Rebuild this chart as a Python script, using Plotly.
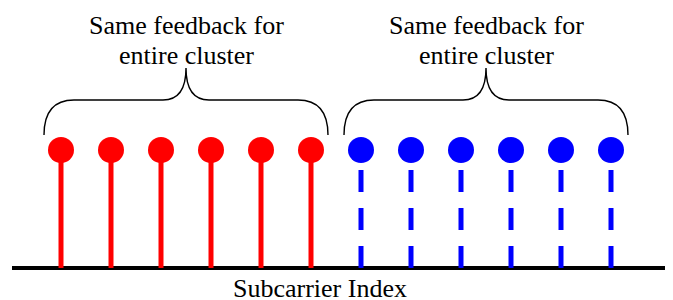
import plotly.graph_objects as go

# ---- data ----
red_index = [1, 2, 3, 4, 5, 6]
red_value = [1, 1, 1, 1, 1, 1]
blue_index = [7, 8, 9, 10, 11, 12]
blue_value = [1, 1, 1, 1, 1, 1]
cluster_members = [red_index, blue_index]
brace_text = ["Same feedback for", "entire cluster"]
axis_label = "Subcarrier Index"

RED = "#FF0000"
BLUE = "#0000FF"
FONT = "Liberation Serif"


def stems(xs, ys):
    sx, sy = [], []
    for x, y in zip(xs, ys):
        sx += [x, x, None]
        sy += [0, y, None]
    return sx, sy


fig = go.Figure()

rx, ry = stems(red_index, red_value)
bx, by = stems(blue_index, blue_value)
fig.add_trace(go.Scatter(x=rx, y=ry, mode="lines", line=dict(color=RED, width=5),
                         hoverinfo="skip", showlegend=False))
fig.add_trace(go.Scatter(x=bx, y=by, mode="lines",
                         line=dict(color=BLUE, width=5, dash="22px,16px"),
                         hoverinfo="skip", showlegend=False))
fig.add_trace(go.Scatter(x=red_index, y=red_value, mode="markers",
                         marker=dict(color=RED, size=26, line=dict(width=0)),
                         showlegend=False))
fig.add_trace(go.Scatter(x=blue_index, y=blue_value, mode="markers",
                         marker=dict(color=BLUE, size=26, line=dict(width=0)),
                         showlegend=False))


def brace_path(xs):
    pad = 0.34
    x0 = min(xs) - pad
    x1 = max(xs) + pad
    xm = (min(xs) + max(xs)) / 2
    y_end, y_mid, y_peak = 1.127, 1.424, 1.695
    c = 0.60   # end corner width
    p = 0.46   # peak curve width
    return (f"M {x0},{y_end} Q {x0},{y_mid} {x0 + c},{y_mid} "
            f"L {xm - p},{y_mid} Q {xm},{y_mid} {xm},{y_peak} "
            f"Q {xm},{y_mid} {xm + p},{y_mid} "
            f"L {x1 - c},{y_mid} Q {x1},{y_mid} {x1},{y_end}")


for members in cluster_members:
    fig.add_shape(type="path", path=brace_path(members), xref="x", yref="y",
                  line=dict(color="black", width=1.4))
    xm = (min(members) + max(members)) / 2
    for txt, yy in zip(brace_text, [2.059, 1.797]):
        fig.add_annotation(x=xm, y=yy, xref="x", yref="y", text=txt, showarrow=False,
                           font=dict(family=FONT, size=26, color="black"),
                           xanchor="center", yanchor="middle")

fig.add_annotation(x=6.18, y=-0.17, xref="x", yref="y", text=axis_label, showarrow=False,
                   font=dict(family=FONT, size=26, color="black"),
                   xanchor="center", yanchor="middle")

fig.update_layout(
    width=673, height=300, autosize=False,
    margin=dict(l=0, r=0, t=0, b=0, pad=0),
    paper_bgcolor="white", plot_bgcolor="white",
    font=dict(family=FONT),
    xaxis=dict(domain=[4 / 673, 1], range=[0.02, 13.4], visible=False, fixedrange=True),
    yaxis=dict(range=[-0.339, 2.2034], showgrid=False, showticklabels=False, ticks="",
               showline=False, zeroline=True, zerolinecolor="black", zerolinewidth=4,
               fixedrange=True),
)

fig.write_html("out.html", config={"displayModeBar": False})
